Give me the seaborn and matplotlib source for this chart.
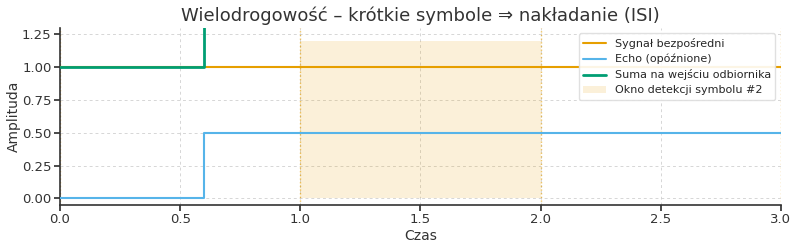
import matplotlib
matplotlib.use("Agg")
import matplotlib.pyplot as plt
import seaborn as sns
import numpy as np

# Data
t = [0.0, 0.6, 3.0]
direct = [1.0, 1.0, 1.0]
echo = [0.0, 0.5, 0.5]
suma = [1.0, 1.5, 1.5]
window = (1.0, 2.0)
window_height = 1.2
boundaries = [0.0, 1.0, 2.0, 3.0]

sns.set_theme(style="whitegrid")
plt.rcParams['font.family'] = ['DejaVu Sans']

fig, ax = plt.subplots(figsize=(8, 2.47), dpi=100)

c_dir = "#E69F00"
c_echo = "#56B4E9"
c_sum = "#009E73"

ax.fill_between(window, [0, 0], [window_height, window_height], color=c_dir, alpha=0.15,
                linewidth=0, label="Okno detekcji symbolu #2", zorder=1)
for b in boundaries:
    ax.axvline(b, color=c_dir, linestyle=":", linewidth=1, alpha=0.6, zorder=1)

sns.lineplot(x=t, y=direct, ax=ax, color=c_dir, linewidth=1.5, drawstyle="steps-post",
             label="Sygnał bezpośredni", zorder=3)
sns.lineplot(x=t, y=echo, ax=ax, color=c_echo, linewidth=1.5, drawstyle="steps-post",
             label="Echo (opóźnione)", zorder=3)
sns.lineplot(x=t, y=suma, ax=ax, color=c_sum, linewidth=2.0, drawstyle="steps-post",
             label="Suma na wejściu odbiornika", zorder=4)

ax.set_xlim(0, 3)
ax.set_ylim(-0.05, 1.30)
ax.set_yticks([0, 0.25, 0.5, 0.75, 1.0, 1.25])
ax.set_title("Wielodrogowość – krótkie symbole ⇒ nakładanie (ISI)", fontsize=13, color="#333333", pad=5)
ax.set_xlabel("Czas", fontsize=10, color="#333333", labelpad=2)
ax.set_ylabel("Amplituda", fontsize=10, color="#333333")
ax.yaxis.set_label_coords(-0.054, 0.5)
ax.tick_params(axis="both", labelsize=9.5, colors="#333333", length=4, pad=2, left=True, bottom=True)
ax.grid(True, linestyle=(0, (3, 3)), color="#cccccc", linewidth=0.7, alpha=0.8)
for s in ["top", "right"]:
    ax.spines[s].set_visible(False)
for s in ["left", "bottom"]:
    ax.spines[s].set_color("#333333")
    ax.spines[s].set_linewidth(1.2)

handles, labels = ax.get_legend_handles_labels()
order = ["Sygnał bezpośredni", "Echo (opóźnione)", "Suma na wejściu odbiornika", "Okno detekcji symbolu #2"]
hmap = dict(zip(labels, handles))
ax.legend([hmap[l] for l in order], order, loc="upper right", fontsize=8, frameon=True,
          framealpha=0.9, edgecolor="#dddddd", borderpad=0.4, labelspacing=0.45)

fig.subplots_adjust(left=0.075, right=0.976, top=0.887, bottom=0.17)
fig.savefig("out.png", dpi=100)
